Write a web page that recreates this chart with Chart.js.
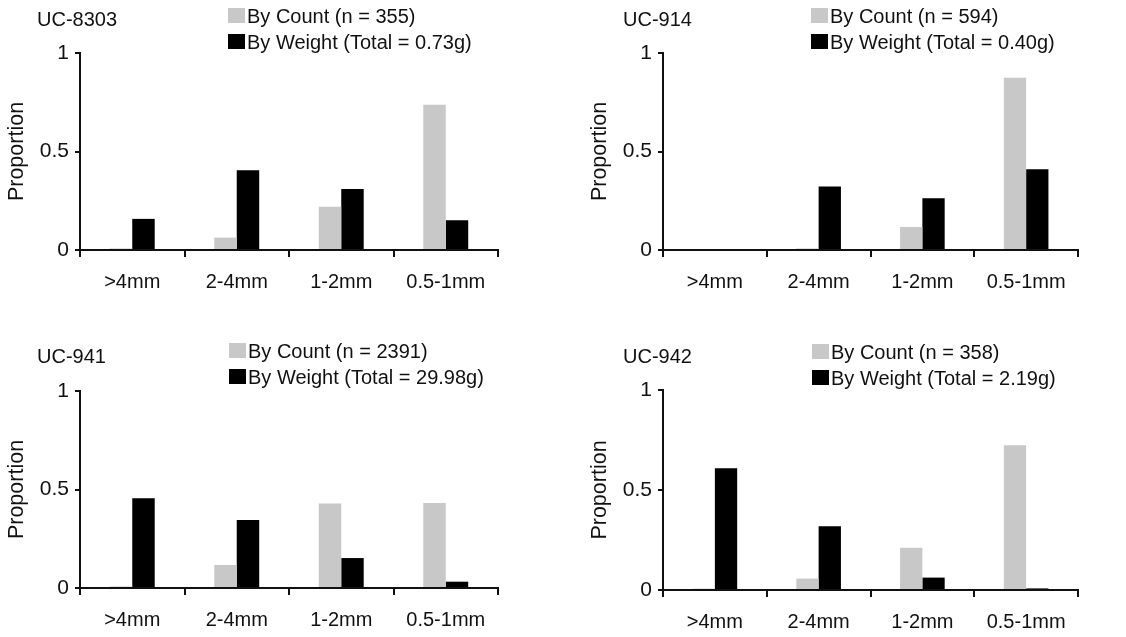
<!DOCTYPE html>
<html>
<head>
<meta charset="utf-8">
<script src="https://cdn.jsdelivr.net/npm/chart.js@4.4.1/dist/chart.umd.min.js"></script>
<style>
  body { margin: 0; background: #fff; }
  #pagina { position: relative; width: 1126px; height: 637px; overflow: hidden; font-family: "Liberation Sans", Arial, sans-serif; color: #111; }
  .painel { position: absolute; }
  .painel canvas { position: absolute; left: 0; top: 0; }
  .titulo, .legenda { position: absolute; font-size: 20px; line-height: 20px; white-space: nowrap; }
  .legenda div { height: 26px; }
  .caixa { display: inline-block; width: 17px; height: 15px; margin-right: 2px; vertical-align: baseline; }
</style>
</head>
<body>
<div id="pagina"></div>
<script>
const categorias = [">4mm", "2-4mm", "1-2mm", "0.5-1mm"];
const amostras = ["UC-8303", "UC-914", "UC-941", "UC-942"];
const contagens = [355, 594, 2391, 358];
const pesosTotais = ["0.73", "0.40", "29.98", "2.19"];

// proporcao por contagem (cinza) e por peso (preto)
const contagem8303 = [0.008, 0.063, 0.219, 0.737];
const peso8303 = [0.158, 0.405, 0.310, 0.151];
const contagem914 = [0, 0.008, 0.117, 0.875];
const peso914 = [0, 0.322, 0.263, 0.410];
const contagem941 = [0.008, 0.117, 0.429, 0.431];
const peso941 = [0.456, 0.345, 0.152, 0.032];
const contagem942 = [0.007, 0.057, 0.211, 0.724];
const peso942 = [0.609, 0.319, 0.062, 0.008];

const seriesContagem = [contagem8303, contagem914, contagem941, contagem942];
const seriesPeso = [peso8303, peso914, peso941, peso942];

// posicao de cada painel na pagina
const paineis = [
  { left: 0, top: 0, w: 563, h: 318, padding: { top: 53, right: 65, bottom: 28, left: 0 }, titulo: [37, 26], legenda: [228, 22.5] },
  { left: 583, top: 0, w: 543, h: 318, padding: { top: 53, right: 48, bottom: 28, left: 0 }, titulo: [40, 26], legenda: [228, 22.5] },
  { left: 0, top: 338, w: 563, h: 299, padding: { top: 53, right: 65, bottom: 9, left: 0 }, titulo: [37, 25], legenda: [229, 19.5] },
  { left: 583, top: 338, w: 543, h: 299, padding: { top: 52, right: 48, bottom: 7, left: 0 }, titulo: [40, 25], legenda: [229, 20.5] }
];

const corTexto = "#111";
const familia = "'Liberation Sans', Arial, sans-serif";
const fonte = { family: familia, size: 20 };

function gerarLegenda(el, datasets) {
  datasets.forEach(ds => {
    const linha = document.createElement("div");
    const caixa = document.createElement("span");
    caixa.className = "caixa";
    caixa.style.background = ds.backgroundColor;
    linha.appendChild(caixa);
    linha.appendChild(document.createTextNode(ds.label));
    el.appendChild(linha);
  });
}

function gerarGrafico(i) {
  const p = paineis[i];
  const pagina = document.getElementById("pagina");
  const div = document.createElement("div");
  div.className = "painel";
  div.style.left = p.left + "px";
  div.style.top = p.top + "px";
  div.style.width = p.w + "px";
  div.style.height = p.h + "px";

  const canvas = document.createElement("canvas");
  canvas.width = p.w;
  canvas.height = p.h;
  div.appendChild(canvas);

  const titulo = document.createElement("div");
  titulo.className = "titulo";
  titulo.style.left = p.titulo[0] + "px";
  titulo.style.top = (p.titulo[1] - 17) + "px";
  titulo.textContent = amostras[i];
  div.appendChild(titulo);

  const datasets = [
    { label: "By Count (n = " + contagens[i] + ")", data: seriesContagem[i], backgroundColor: "#c8c8c8" },
    { label: "By Weight (Total = " + pesosTotais[i] + "g)", data: seriesPeso[i], backgroundColor: "#000000" }
  ];
  datasets.forEach(ds => { ds.categoryPercentage = 0.43; ds.barPercentage = 1; });

  const legenda = document.createElement("div");
  legenda.className = "legenda";
  legenda.style.left = p.legenda[0] + "px";
  legenda.style.top = (p.legenda[1] - 17) + "px";
  gerarLegenda(legenda, datasets);
  div.appendChild(legenda);

  pagina.appendChild(div);

  new Chart(canvas.getContext("2d"), {
    type: "bar",
    data: { labels: categorias, datasets: datasets },
    options: {
      responsive: false,
      animation: false,
      layout: { padding: p.padding },
      plugins: { legend: { display: false }, tooltip: { enabled: false } },
      scales: {
        x: {
          grid: { display: true, drawOnChartArea: false, tickLength: 7, color: corTexto, lineWidth: 2 },
          border: { display: true, color: corTexto, width: 2 },
          ticks: { font: fonte, color: corTexto, padding: 13, maxRotation: 0 },
          afterFit: s => { s.height = 40; }
        },
        y: {
          min: 0,
          max: 1,
          ticks: { stepSize: 0.5, font: { family: familia, size: 21 }, color: corTexto, padding: 6, callback: v => String(v) },
          grid: { display: true, drawOnChartArea: false, tickLength: 5, color: corTexto, lineWidth: 2 },
          border: { display: true, color: corTexto, width: 2 },
          title: { display: true, text: "Proportion", font: { family: familia, size: 21.5 }, color: corTexto, padding: { top: 4, bottom: 0 } },
          afterFit: s => { s.width = 80; }
        }
      }
    }
  });
}

window.addEventListener("DOMContentLoaded", () => {
  paineis.forEach((p, i) => gerarGrafico(i));
});
</script>
</body>
</html>
